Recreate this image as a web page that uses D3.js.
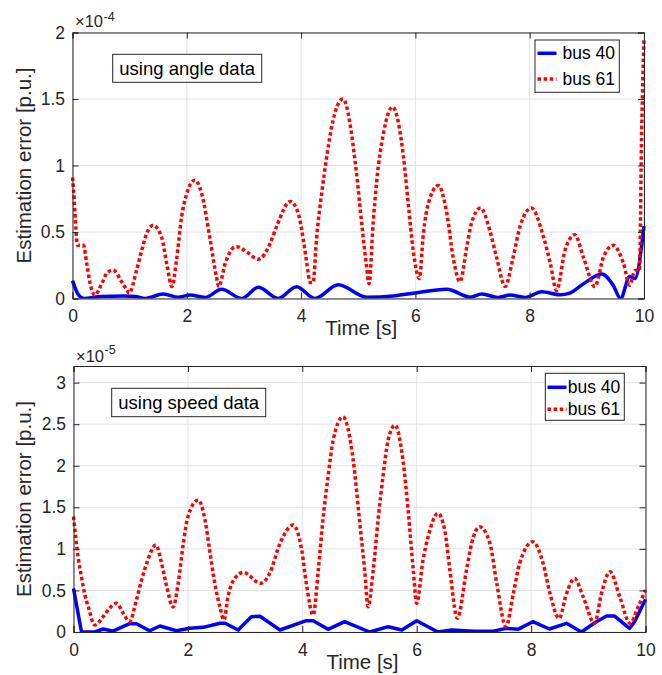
<!DOCTYPE html>
<html><head><meta charset="utf-8">
<script src="https://cdn.jsdelivr.net/npm/d3@7"></script>
<style>
body{margin:0;background:#fff;}
svg{display:block;font-family:"Liberation Sans",Arial,Helvetica,sans-serif;}
</style></head><body>
<svg id="chart" width="662" height="675"></svg>
<script>
// ---------- data ----------
const xTicks = [0, 2, 4, 6, 8, 10];
const topYTicks = [0, 0.5, 1, 1.5, 2];
const bottomYTicks = [0, 0.5, 1, 1.5, 2, 2.5, 3];
const topExponent = "-4";
const bottomExponent = "-5";
const seriesNames = ["bus 40", "bus 61"];
const topNote = "using angle data";
const bottomNote = "using speed data";

// top panel (angle data), values in units of 1e-4 p.u.
const topRedTime = [0,0.03,0.06,0.085,0.19,0.25,0.31,0.39,0.51,0.60,0.71,0.86,0.95,0.99,1.12,1.21,1.30,1.41,1.56,1.65,1.74,1.82,1.91,2.0,2.14,2.26,2.41,2.52,2.56,2.67,2.81,2.87,3.05,3.25,3.46,3.57,3.81,3.95,4.04,4.10,4.16,4.21,4.27,4.36,4.45,4.535,4.73,4.97,5.06,5.14,5.19,5.26,5.32,5.44,5.60,5.79,5.88,5.96,6.07,6.14,6.23,6.40,6.55,6.66,6.78,6.90,6.98,7.14,7.30,7.42,7.57,7.71,7.83,8.03,8.24,8.36,8.47,8.62,8.79,8.94,9.14,9.29,9.46,9.64,9.75,9.84,9.92,9.96,10];
const topRed = [0.91,0.74,0.515,0.40,0.40,0.26,0.11,0.026,0.11,0.19,0.214,0.126,0.064,0.04,0.21,0.36,0.49,0.55,0.46,0.26,0.09,0.29,0.615,0.79,0.89,0.79,0.44,0.16,0.09,0.26,0.38,0.39,0.35,0.295,0.415,0.54,0.73,0.64,0.44,0.265,0.12,0.12,0.45,0.79,1.07,1.29,1.50,0.94,0.565,0.26,0.11,0.565,0.87,1.24,1.44,1.07,0.69,0.365,0.15,0.49,0.72,0.85,0.64,0.31,0.126,0.39,0.565,0.68,0.515,0.31,0.09,0.31,0.54,0.68,0.465,0.265,0.06,0.365,0.48,0.31,0.09,0.31,0.40,0.265,0.10,0.21,0.21,1.27,1.95];
const topBlueTime = [0,0.1,0.2,0.5,0.9,1.1,1.27,1.59,1.85,2.06,2.32,2.61,2.96,3.25,3.60,3.92,4.24,4.65,5.15,5.61,5.96,6.55,6.96,7.16,7.45,7.66,7.92,8.21,8.53,8.70,8.94,9.26,9.46,9.59,9.75,9.84,10];
const topBlue = [0.134,0.03,0.0,0.015,0.018,0.015,0.0,0.034,0.01,0.026,0.008,0.07,0.0,0.084,0.0,0.089,0.0,0.104,0.01,0.019,0.04,0.07,0.01,0.034,0.008,0.026,0.008,0.05,0.028,0.04,0.11,0.185,0.10,0.0,0.165,0.15,0.545];

// bottom panel (speed data), values in units of 1e-5 p.u.
const bottomRedTime = [0,0.08,0.14,0.2,0.26,0.37,0.52,0.63,0.75,0.87,0.98,1.10,1.19,1.28,1.44,1.54,1.63,1.74,1.83,1.92,2.0,2.18,2.30,2.38,2.47,2.56,2.63,2.70,2.82,2.97,3.27,3.43,3.61,3.84,3.99,4.07,4.19,4.28,4.36,4.45,4.54,4.71,4.89,5.0,5.09,5.15,5.24,5.33,5.41,5.50,5.62,5.76,5.85,5.94,6.0,6.11,6.2,6.37,6.49,6.58,6.71,6.87,6.96,7.10,7.28,7.40,7.56,7.69,7.80,8.03,8.21,8.33,8.49,8.62,8.76,8.91,9.11,9.23,9.38,9.55,9.73,9.87,10];
const bottomRed = [1.39,0.905,0.66,0.445,0.30,0.084,0.184,0.285,0.345,0.225,0.124,0.385,0.625,0.826,1.046,0.826,0.545,0.30,0.585,1.066,1.386,1.587,1.346,0.986,0.585,0.30,0.144,0.424,0.645,0.717,0.585,0.705,1.066,1.286,0.986,0.585,0.204,0.745,1.346,1.866,2.308,2.588,2.067,1.346,0.745,0.304,0.745,1.386,1.866,2.308,2.488,2.067,1.466,0.745,0.345,0.865,1.146,1.427,1.226,0.745,0.164,0.745,1.066,1.266,1.066,0.585,0.064,0.465,0.826,1.085,0.826,0.465,0.164,0.465,0.645,0.424,0.104,0.465,0.725,0.424,0.104,0.30,0.505];
const bottomBlueTime = [0,0.14,0.37,0.52,0.69,0.98,1.10,1.33,1.51,1.80,2.03,2.27,2.56,2.65,2.88,3.11,3.26,3.61,4.07,4.19,4.45,4.74,5.18,5.50,5.74,6.0,6.37,6.61,7.0,7.34,7.56,7.77,8.03,8.32,8.62,8.88,9.14,9.32,9.46,9.72,9.81,10];
const bottomBlue = [0.525,0.0,0.0,0.036,0.01,0.10,0.10,0.015,0.072,0.015,0.044,0.056,0.105,0.105,0.024,0.184,0.19,0.024,0.136,0.136,0.032,0.124,0.0,0.064,0.024,0.136,0.0,0.024,0.01,0.01,0.044,0.032,0.124,0.036,0.104,0.0,0.124,0.192,0.192,0.044,0.124,0.393];

// ---------- layout ----------
const svg = d3.select("#chart");
const axisColor = "#262626";
const gridColor = "#e3e3e3";
const blue = "#0000ff", red = "#ff0000";
const tickFont = 17.5, labelFont = 20.5, noteFont = 18.5, legendFont = 17.5;

const panels = [
  { x0:72.5, x1:644, yBot:298.5, yTop:32.5, yMax:2, yTicks:topYTicks, exp:topExponent, note:topNote,
    redT:topRedTime, red:topRed, blueT:topBlueTime, blue:topBlue, blueCurve:d3.curveMonotoneX,
    expBase:27.3, expSup:20.5, xLabelBase:335,
    noteBox:[112.7,54.3,261.7,82.3], legBox:[535,40,619.3,92.3], legRows:[53.3,79], legLine:[537.5,556.5], legText:562.5 },
  { x0:73.5, x1:645.5, yBot:632, yTop:366, yMax:3.2, yTicks:bottomYTicks, exp:bottomExponent, note:bottomNote,
    redT:bottomRedTime, red:bottomRed, blueT:bottomBlueTime, blue:bottomBlue, blueCurve:d3.curveLinear,
    expBase:361.7, expSup:353.8, xLabelBase:669,
    noteBox:[111.7,388.3,265.7,416.7], legBox:[545.3,373.3,624.3,420.3], legRows:[387.3,409.3], legLine:[547.5,566.5], legText:567.7 }
];

panels.forEach((p, i) => {
  const x = d3.scaleLinear().domain([0, 10]).range([p.x0, p.x1]);
  const y = d3.scaleLinear().domain([0, p.yMax]).range([p.yBot, p.yTop]);
  const W = p.x1 - p.x0, H = p.yBot - p.yTop;
  const g = svg.append("g");

  g.append("rect").attr("x", p.x0).attr("y", p.yTop).attr("width", W).attr("height", H).attr("fill", "#fff");

  // grid
  g.append("g").selectAll("line").data(xTicks).join("line")
    .attr("x1", d => x(d)).attr("x2", d => x(d)).attr("y1", p.yTop).attr("y2", p.yBot)
    .attr("stroke", gridColor).attr("stroke-width", 1);
  g.append("g").selectAll("line").data(p.yTicks).join("line")
    .attr("x1", p.x0).attr("x2", p.x1).attr("y1", d => y(d)).attr("y2", d => y(d))
    .attr("stroke", gridColor).attr("stroke-width", 1);

  // clip
  const clipId = "clip" + i;
  svg.append("clipPath").attr("id", clipId).append("rect")
    .attr("x", p.x0 - 2).attr("y", p.yTop - 2).attr("width", W + 4).attr("height", H + 2);

  const lineG = g.append("g").attr("clip-path", `url(#${clipId})`);
  const blueLine = d3.line().x((d, k) => x(p.blueT[k])).y(d => y(d)).curve(p.blueCurve);
  const redLine = d3.line().x((d, k) => x(p.redT[k])).y(d => y(d)).curve(d3.curveMonotoneX);
  lineG.append("path").attr("d", blueLine(p.blue)).attr("fill", "none")
    .attr("stroke", blue).attr("stroke-width", 3.5).attr("stroke-linejoin", "round");
  lineG.append("path").attr("d", redLine(p.red)).attr("fill", "none")
    .attr("stroke", red).attr("stroke-width", 3.5).attr("stroke-dasharray", "3.5,2.6");

  // axes
  const yFmt = d => String(d);
  const axL = g.append("g").attr("transform", `translate(${p.x0},0)`)
    .call(d3.axisLeft(y).tickValues(p.yTicks).tickFormat(yFmt).tickSize(-6).tickPadding(7.5));
  const axR = g.append("g").attr("transform", `translate(${p.x1},0)`)
    .call(d3.axisRight(y).tickValues(p.yTicks).tickFormat("").tickSize(-6));
  const axB = g.append("g").attr("transform", `translate(0,${p.yBot})`)
    .call(d3.axisBottom(x).tickValues(xTicks).tickFormat(d3.format("d")).tickSize(-6).tickPadding(11.5));
  const axT = g.append("g").attr("transform", `translate(0,${p.yTop})`)
    .call(d3.axisTop(x).tickValues(xTicks).tickFormat("").tickSize(-6));
  [axL, axR, axB, axT].forEach(a => {
    a.select(".domain").attr("stroke", axisColor).attr("stroke-width", 1);
    a.selectAll(".tick line").attr("stroke", axisColor).attr("stroke-width", 1);
    a.selectAll(".tick text").attr("fill", axisColor).attr("font-size", tickFont)
      .attr("font-family", "Liberation Sans, Arial, sans-serif");
  });

  // exponent label: ×10 with superscript
  const ex = g.append("text").attr("x", p.x0 + 2.5).attr("y", p.expBase)
    .attr("fill", axisColor).attr("font-size", 16.5).text("\u00d710");
  const exW = ex.node().getComputedTextLength();
  g.append("text").attr("x", p.x0 + 2.5 + exW + 0.5).attr("y", p.expSup).attr("fill", axisColor)
    .attr("font-size", 12.5).text(p.exp);

  // axis labels
  g.append("text").attr("x", (p.x0 + p.x1) / 2 + 3).attr("y", p.xLabelBase)
    .attr("text-anchor", "middle").attr("fill", axisColor).attr("font-size", labelFont).text("Time [s]");
  g.append("text").attr("transform", `translate(30.7,${(p.yTop + p.yBot) / 2}) rotate(-90)`)
    .attr("text-anchor", "middle").attr("fill", axisColor).attr("font-size", labelFont)
    .text("Estimation error [p.u.]");

  // note box
  const nb = p.noteBox;
  g.append("rect").attr("x", nb[0]).attr("y", nb[1]).attr("width", nb[2] - nb[0]).attr("height", nb[3] - nb[1])
    .attr("fill", "#fff").attr("stroke", axisColor).attr("stroke-width", 1);
  g.append("text").attr("x", (nb[0] + nb[2]) / 2).attr("y", (nb[1] + nb[3]) / 2)
    .attr("dy", "0.35em").attr("text-anchor", "middle").attr("fill", "#000")
    .attr("font-size", noteFont).text(p.note);

  // legend
  const lb = p.legBox;
  g.append("rect").attr("x", lb[0]).attr("y", lb[1]).attr("width", lb[2] - lb[0]).attr("height", lb[3] - lb[1])
    .attr("fill", "#fff").attr("stroke", axisColor).attr("stroke-width", 1);
  seriesNames.forEach((name, k) => {
    const yy = p.legRows[k];
    const ln = g.append("line").attr("x1", p.legLine[0]).attr("x2", p.legLine[1]).attr("y1", yy).attr("y2", yy)
      .attr("stroke", k === 0 ? blue : red).attr("stroke-width", 3.5);
    if (k === 1) ln.attr("stroke-dasharray", "3.5,2.6");
    g.append("text").attr("x", p.legText).attr("y", yy).attr("dy", "0.35em")
      .attr("fill", "#000").attr("font-size", legendFont).text(name);
  });
});
</script>
</body></html>
